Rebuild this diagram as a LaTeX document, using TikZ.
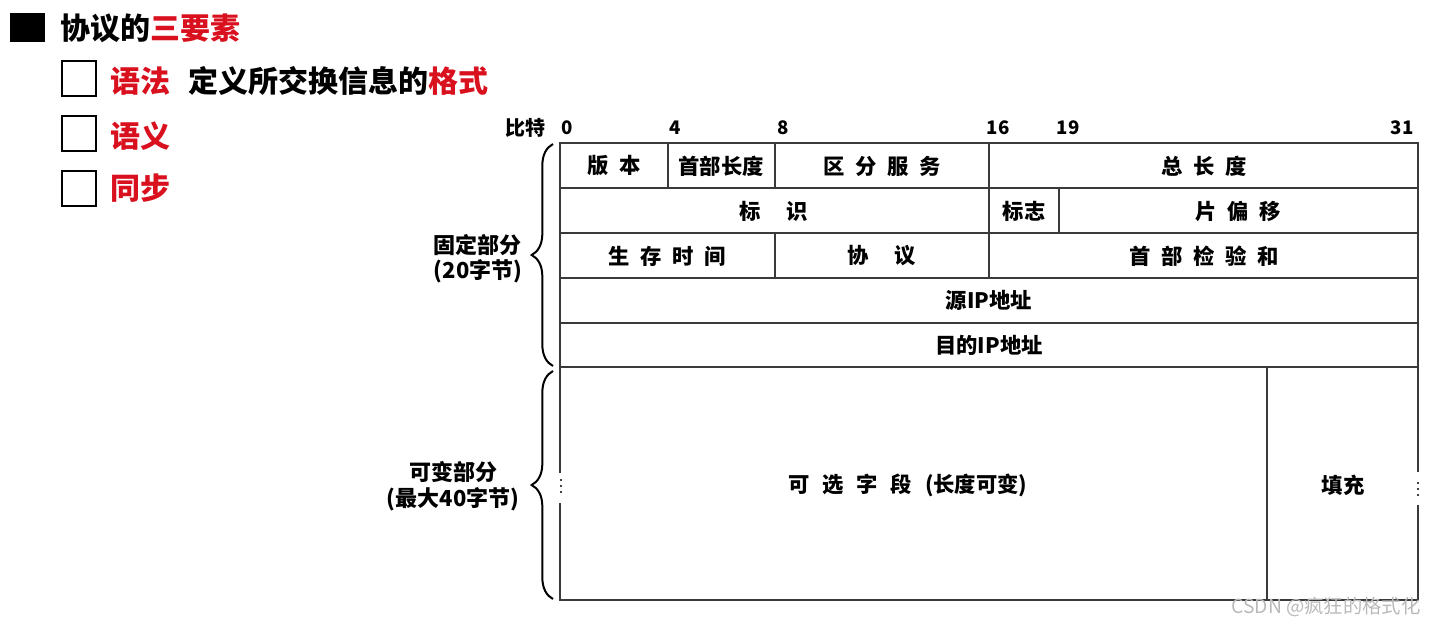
\documentclass[tikz,border=0pt]{standalone}
\usepackage{fontspec}
\setmainfont{Noto Sans CJK SC}
\usetikzlibrary{decorations.pathreplacing}
\definecolor{keyred}{HTML}{D9101E}
\definecolor{rule}{HTML}{3A3A3A}
\newcommand{\fsp}{\hspace{0.5em}}
\newcommand{\wsp}{\hspace{1.2em}}

\begin{document}
\begin{tikzpicture}[x=0.75pt,y=-0.75pt,
  grid/.style={draw=rule,line width=1.3pt},
  field/.style={inner sep=0pt,font=\fontsize{16}{18}\selectfont\bfseries},
  bitno/.style={inner sep=0pt,font=\fontsize{14}{16}\selectfont\bfseries},
  head/.style={inner sep=0pt,anchor=west,font=\fontsize{22.5}{26}\selectfont\bfseries},
  part/.style={inner sep=0pt,font=\fontsize{16.5}{19}\selectfont\bfseries},
  curly/.style={draw=black,line width=1.5pt,decorate,decoration={brace,amplitude=16pt,aspect=0.5}}]

\useasboundingbox (0,0) rectangle (1437,625);

% title and the three items
\fill (10,13) rectangle (45,42);
\node[head] (title) at (60,28) {协议的\textcolor{keyred}{三要素}};

\draw[line width=1.6pt] (62,61) rectangle (96,96);
\draw[line width=1.6pt] (62,116) rectangle (96,151);
\draw[line width=1.6pt] (62,171) rectangle (96,206);

\node[head] (syntax) at (110,81) {\textcolor{keyred}{语法}\hspace{0.6em}定义所交换信息的\textcolor{keyred}{格式}};
\node[head] (semantics) at (110,136) {\textcolor{keyred}{语义}};
\node[head] (timing) at (110,188) {\textcolor{keyred}{同步}};

% bit ruler
\node[bitno,font=\fontsize{15}{17}\selectfont\bfseries] (bits) at (525,128) {比特};
\node[bitno] (b0) at (567,128) {0};
\node[bitno] (b4) at (675,128) {4};
\node[bitno] (b8) at (783,128) {8};
\node[bitno] (b16) at (998,128) {16};
\node[bitno] (b19) at (1068,128) {19};
\node[bitno] (b31) at (1402,128) {31};

% fixed part
\draw[grid] (560,143) rectangle (1418,367);
\foreach \y in {188,233,278,323}
  \draw[grid] (560,\y) -- (1418,\y);
\draw[grid] (668,143) -- (668,188);
\draw[grid] (775,143) -- (775,188);
\draw[grid] (989,143) -- (989,278);
\draw[grid] (1059,188) -- (1059,233);
\draw[grid] (775,233) -- (775,278);

\node[field] (ver) at (614,166) {版\fsp 本};
\node[field] (hlen) at (721,166) {首部长度};
\node[field] (ds) at (882,166) {区\fsp 分\fsp 服\fsp 务};
\node[field] (tlen) at (1204,166) {总\fsp 长\fsp 度};

\node[field] (ident) at (774,211) {标\wsp 识};
\node[field] (flag) at (1024,211) {标志};
\node[field] (frag) at (1238,211) {片\fsp 偏\fsp 移};

\node[field] (ttl) at (667,256) {生\fsp 存\fsp 时\fsp 间};
\node[field] (proto) at (882,256) {协\wsp 议};
\node[field] (csum) at (1204,256) {首\fsp 部\fsp 检\fsp 验\fsp 和};

\node[field] (src) at (989,300) {源IP地址};
\node[field] (dst) at (989,345) {目的IP地址};

% variable part
\draw[grid] (560,367) -- (560,473);
\draw[grid] (560,503) -- (560,600) -- (1418,600) -- (1418,505);
\draw[grid] (1418,472) -- (1418,367);
\draw[grid] (1267,367) -- (1267,600);

\foreach \d in {-6,0,6} {
  \fill (561,486+\d) circle (0.9pt);
  \fill (1418,489+\d) circle (0.9pt);
}

\node[field] (opt) at (908,485) {可\hspace{0.6em}选\hspace{0.6em}字\hspace{0.6em}段\hspace{0.6em}(长度可变)};
\node[field] (pad) at (1343,485) {填充};

% braces
\draw[curly] (553,366) -- (553,144);
\draw[curly] (553,599) -- (553,371);

\node[part] (fixed) at (477,245) {固定部分};
\node[part] (fixedlen) at (478,271) {(20字节)};
\node[part] (var) at (453,472) {可变部分};
\node[part] (varlen) at (453,499) {(最大40字节)};

\node[inner sep=0pt,text=gray!55,font=\fontsize{14.5}{16}\selectfont] (mark) at (1326,607) {CSDN @疯狂的格式化};

\end{tikzpicture}
\end{document}
